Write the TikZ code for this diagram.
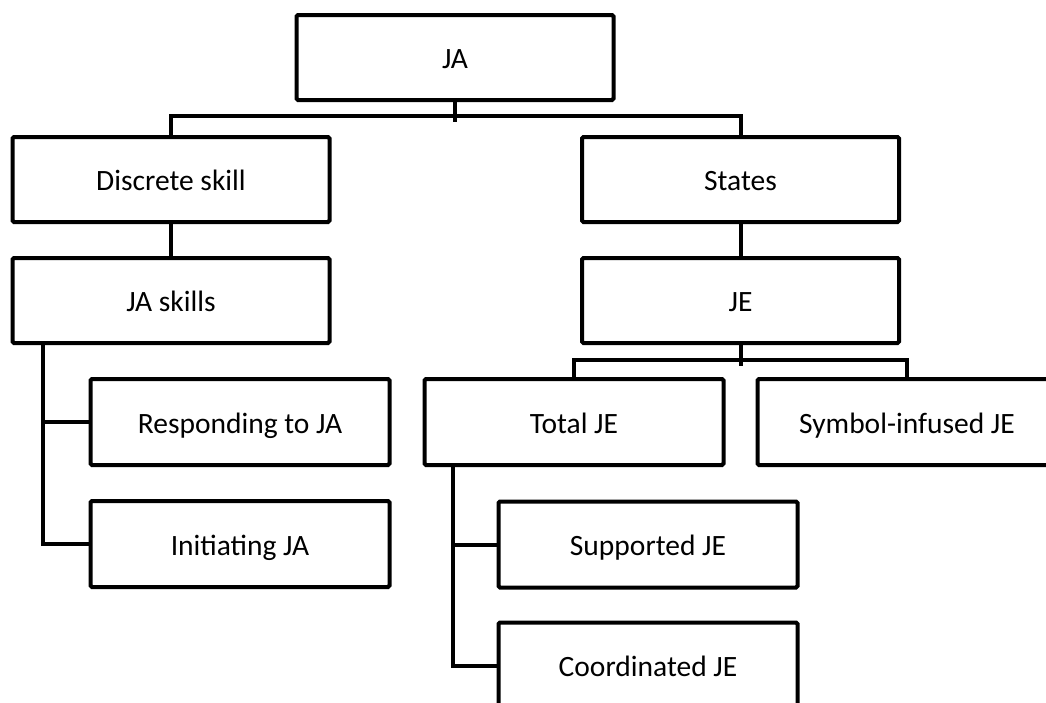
\documentclass[tikz,border=0pt]{standalone}
\usepackage{fontspec}
\setmainfont{Carlito}
\usepackage{tikz}

\begin{document}
\begin{tikzpicture}[x=1pt,y=-1pt,line width=4pt,
    topbox/.style={draw,rectangle,rounded corners=1.5pt,minimum width=317pt,minimum height=85pt,
        inner sep=0pt,text height=22pt,text depth=0pt,font=\fontsize{29.5}{34}\selectfont},
    subbox/.style={topbox,minimum width=299pt,minimum height=86pt}]
        \useasboundingbox (0,0) rectangle (1046,702);
        \clip (0,0) rectangle (1046,702);

        % top and first level
        \node[topbox] (ja) at (455,57.5) {JA};
        \node[topbox] (discrete) at (171,179.5) {Discrete skill};
        \node[topbox] (states) at (740.5,179.5) {States};
        \node[topbox] (jaskills) at (171,300.5) {JA skills};
        \node[topbox] (je) at (740.5,300.5) {JE};

        % lower levels
        \node[subbox] (responding) at (240,422) {Responding to JA};
        \node[subbox] (initiating) at (240,544) {Initiating JA};
        \node[subbox] (totalje) at (574,422) {Total JE};
        \node[subbox] (symbolje) at (907,422) {Symbol-infused JE};
        \node[subbox] (supported) at (648,544.5) {Supported JE};
        \node[subbox] (coordinated) at (648,665.5) {Coordinated JE};

        \draw (ja.south) -- ++(0,20);
        \draw (discrete.north) -- ++(0,-19) -| (states.north);
        \draw (discrete.south) -- (jaskills.north);
        \draw (states.south) -- (je.north);
        \draw (je.south) -- ++(0,21);
        \draw (totalje.north) -- ++(0,-17) -| (symbolje.north);

        \draw ([xshift=32pt]jaskills.south west) |- (responding.west);
        \draw ([xshift=32pt]jaskills.south west) |- (initiating.west);
        \draw ([xshift=30pt]totalje.south west) |- (supported.west);
        \draw ([xshift=30pt]totalje.south west) |- (coordinated.west);
    \end{tikzpicture}
\end{document}
